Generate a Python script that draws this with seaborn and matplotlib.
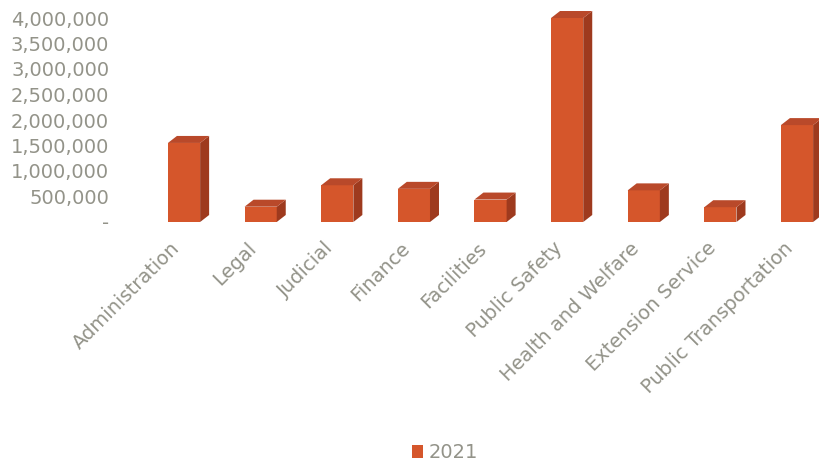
import matplotlib
matplotlib.use("Agg")
import matplotlib.pyplot as plt
import matplotlib.transforms as mtransforms
import seaborn as sns
import pandas as pd
from matplotlib.patches import Polygon, Patch
from matplotlib.ticker import FuncFormatter, MultipleLocator

categories = ["Administration", "Legal", "Judicial", "Finance", "Facilities",
              "Public Safety", "Health and Welfare", "Extension Service",
              "Public Transportation"]
values_2021 = [1550000, 300000, 720000, 650000, 440000, 4000000, 620000, 290000, 1900000]
series_name = "2021"

df = pd.DataFrame({"Department": categories, "Spend": values_2021,
                   "Year": [series_name] * len(categories)})

sns.set_theme(style="white")
plt.rcParams["font.family"] = ["DejaVu Sans"]

front = "#D5562B"
side = "#9E3A1E"
top = "#B9492A"
grey = "#939389"

fig = plt.figure(figsize=(8.2, 4.71), dpi=100)
ax = fig.add_axes([112 / 820, 1 - 222 / 471, (820 - 112) / 820, 204 / 471])

sns.barplot(data=df, x="Department", y="Spend", hue="Year",
            palette=[front], width=0.42, ax=ax, legend=False, saturation=1,
            edgecolor="none", linewidth=0)

ax.set_xlim(-0.94, 8.30)
ax.set_ylim(0, 4000000)
ax.yaxis.set_major_locator(MultipleLocator(500000))
ax.yaxis.set_major_formatter(FuncFormatter(lambda v, p: "-" if v == 0 else f"{v:,.0f}"))
for s in ax.spines.values():
    s.set_visible(False)
ax.tick_params(axis="both", length=0, colors=grey, labelsize=14)
ax.tick_params(axis="y", pad=2)
ax.tick_params(axis="x", pad=12)
ax.set_xlabel("")
ax.set_ylabel("")
shift = mtransforms.ScaledTranslation(-14 / 100, 0, fig.dpi_scale_trans)
for lbl in ax.get_xticklabels():
    lbl.set_rotation(45)
    lbl.set_ha("right")
    lbl.set_rotation_mode("anchor")
    lbl.set_color(grey)
    lbl.set_transform(lbl.get_transform() + shift)
plt.setp(ax.get_yticklabels(), color=grey)

# pseudo-3D faces derived from the drawn bars
dx, dy = 9, 7
for bar in list(ax.patches):
    (x0, y0), (x1, y1) = ax.transData.transform(
        [(bar.get_x(), bar.get_y()), (bar.get_x() + bar.get_width(), bar.get_y() + bar.get_height())])
    side_poly = Polygon([(x1, y0), (x1 + dx, y0 + dy), (x1 + dx, y1 + dy), (x1, y1)],
                        closed=True, transform=None, facecolor=side, edgecolor="none", clip_on=False)
    top_poly = Polygon([(x0, y1), (x0 + dx, y1 + dy), (x1 + dx, y1 + dy), (x1, y1)],
                       closed=True, transform=None, facecolor=top, edgecolor="none", clip_on=False)
    fig.add_artist(side_poly)
    fig.add_artist(top_poly)
    bar.set_clip_on(False)

handles = [Patch(facecolor=front, edgecolor="none")]
leg = ax.legend(handles, [series_name], loc="center", bbox_to_anchor=((445 - 112) / 708, (222 - 453) / 204),
                frameon=False, fontsize=14, handlelength=0.6, handleheight=0.6, handletextpad=0.3)
for t in leg.get_texts():
    t.set_color(grey)

fig.savefig("out.png", dpi=100)
